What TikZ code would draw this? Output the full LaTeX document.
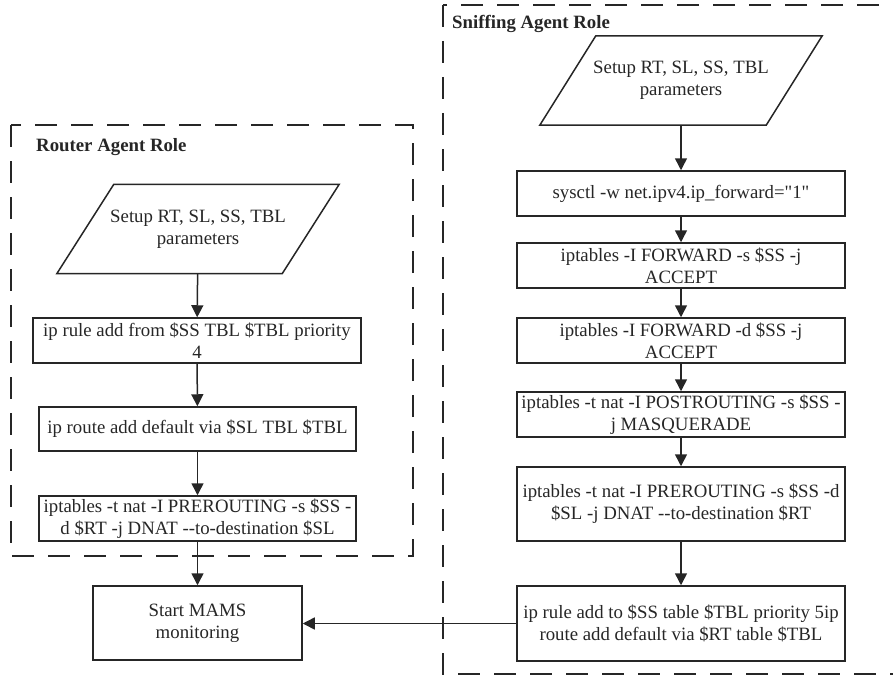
\documentclass[tikz,border=0pt]{standalone}
\usepackage{fontspec}
\setmainfont{Liberation Serif}[Ligatures=TeXOff]
\usetikzlibrary{arrows.meta,calc}
\definecolor{ink}{HTML}{262626}
\newcommand{\dd}{-\kern0pt-}
\begin{document}
\begin{tikzpicture}[x=1pt,y=-1pt,
  every node/.style={font=\fontsize{18.8}{21.7}\selectfont, text=ink},
  box/.style={draw=ink, line width=1.5pt, align=center, inner sep=0pt, minimum width=328pt, minimum height=45pt},
  para/.style={align=center, inner sep=0pt, minimum width=225pt, minimum height=89pt},
  role/.style={draw=ink, line width=2pt, dash pattern=on 22pt off 14pt},
  arr/.style={draw=ink, line width=1.5pt, -{Triangle[length=12pt,width=12pt]}},
  title/.style={font=\fontsize{18.8}{21.7}\selectfont\bfseries, anchor=west, inner sep=0pt}
]
\useasboundingbox (0,0) rectangle (893,674);
% role frames
\draw[role] (11,125) rectangle (413,556);
\draw[role] (443,5) rectangle (910,674);
\node[title] (rtitle) at (36,147) {Router Agent Role};
\node[title] (stitle) at (452,24) {Sniffing Agent Role};

% left column
\node[para] (p1) at (198,229) {Setup RT, SL, SS, TBL\\parameters};
\draw[draw=ink, line width=1.5pt] ($(p1.north west)+(28.5,0)$) -- ($(p1.north east)+(28.5,0)$) -- ($(p1.south east)-(28.5,0)$) -- ($(p1.south west)-(28.5,0)$) -- cycle;
\node[box] (b1) at (197,340.5) {ip rule add from \$SS TBL \$TBL priority\\4};
\node[box, minimum width=317pt, minimum height=44pt] (b2) at (197.5,429) {ip route add default via \$SL TBL \$TBL};
\node[box, minimum width=317pt] (b3) at (197.5,518.5) {iptables -t nat -I PREROUTING -s \$SS -\\d \$RT -j DNAT \dd to-destination \$SL};
\node[box, minimum width=209pt, minimum height=74pt] (mams) at (197.5,623) {Start MAMS\\monitoring};

% right column
\node[para, minimum width=226pt] (p2) at (681,80.5) {Setup RT, SL, SS, TBL\\parameters};
\draw[draw=ink, line width=1.5pt] ($(p2.north west)+(28,0)$) -- ($(p2.north east)+(28,0)$) -- ($(p2.south east)-(28,0)$) -- ($(p2.south west)-(28,0)$) -- cycle;
\node[box] (r1) at (681,193.5) {sysctl -w net.ipv4.ip\_forward="1"};
\node[box] (r2) at (681,265.5) {iptables -I FORWARD -s \$SS -j\\ACCEPT};
\node[box] (r3) at (681,340.5) {iptables -I FORWARD -d \$SS -j\\ACCEPT};
\node[box] (r4) at (681,414.5) {iptables -t nat -I POSTROUTING -s \$SS -\\j MASQUERADE};
\node[box, minimum height=74pt] (r5) at (681,504) {iptables -t nat -I PREROUTING -s \$SS -d\\\$SL -j DNAT \dd to-destination \$RT};
\node[box, minimum height=75pt] (r6) at (681,623.5) {ip rule add to \$SS table \$TBL priority 5ip\\route add default via \$RT table \$TBL};

% connectors
\draw[arr] (p1) -- (b1);
\draw[arr] (b1) -- (b2);
\draw[arr] (b2) -- (b3);
\draw[arr] (b3) -- (mams);
\draw[arr] (p2) -- (r1);
\draw[arr] (r1) -- (r2);
\draw[arr] (r2) -- (r3);
\draw[arr] (r3) -- (r4);
\draw[arr] (r4) -- (r5);
\draw[arr] (r5) -- (r6);
\draw[arr] (r6.west) -- (r6.west -| mams.east);
\end{tikzpicture}
\end{document}
